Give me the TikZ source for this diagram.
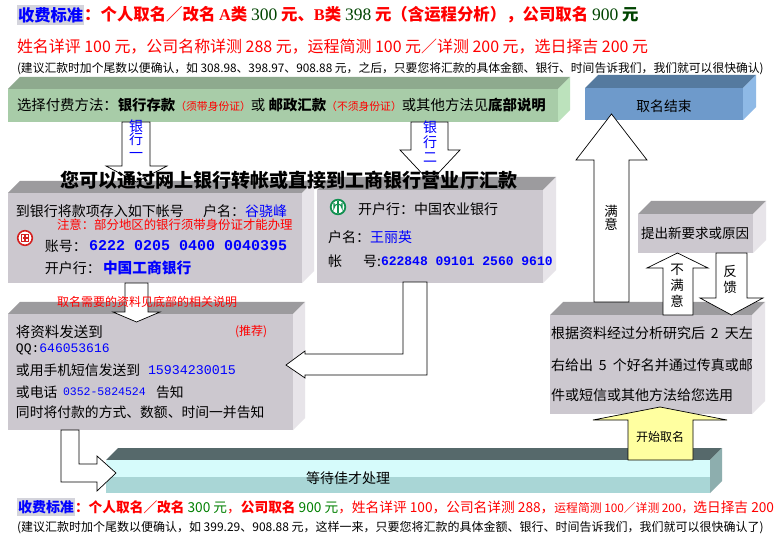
\documentclass[tikz,border=0pt]{standalone}
\usepackage{fontspec}
\setmainfont{Noto Sans CJK SC}
\newfontfamily\monof{Liberation Mono}
\newfontfamily\latserif{Liberation Serif}
\usetikzlibrary{calc}
\definecolor{gFront}{HTML}{A8CCA8}
\definecolor{gTop}{HTML}{8EAA8E}
\definecolor{gSide}{HTML}{BCE2BC}
\definecolor{bFront}{HTML}{6E9ACB}
\definecolor{bTop}{HTML}{557A9F}
\definecolor{bSide}{HTML}{8EB9E6}
\definecolor{kFront}{HTML}{CCC8CF}
\definecolor{kTop}{HTML}{9C9B9E}
\definecolor{kSide}{HTML}{E7E4E9}
\definecolor{cTop}{HTML}{56696B}
\definecolor{cFront}{HTML}{D6FBFB}
\definecolor{cLow}{HTML}{A9D6D6}
\definecolor{cSide}{HTML}{8DAEAE}
\definecolor{yel}{HTML}{FFFFA0}
\definecolor{hlgray}{HTML}{D4D4DC}
\definecolor{dgreen}{HTML}{004400}
\definecolor{dgreen2}{HTML}{008000}
\definecolor{icbc}{HTML}{D42020}
\definecolor{abc}{HTML}{109050}
\newcommand\fsz[1]{\fontsize{#1pt}{#1pt}\selectfont}
% 3D box: name, x1, y1, x2, y2, depth, front, top, side
\newcommand\tdbox[9]{%
  \fill[#8] (#2,#3) -- ({#2+#6},{#3-#6}) -- ({#4+#6},{#3-#6}) -- (#4,#3) -- cycle;
  \fill[#9] (#4,#3) -- ({#4+#6},{#3-#6}) -- ({#4+#6},{#5-#6}) -- (#4,#5) -- cycle;
  \node[fill=#7, inner sep=0pt, outer sep=0pt, anchor=north west,
        minimum width={(#4-#2)*1pt}, minimum height={(#5-#3)*1pt}] (#1) at (#2,#3) {};
}
% vertical block arrow: [style] shaft x1, x2, shaft end y, head base y, wing x1, wing x2, tip y
\newcommand\varrow[8][]{%
  \draw[barrow,#1] (#2,#4) -- (#3,#4) -- (#3,#5) -- (#7,#5) -- ({(#6+#7)/2},#8)
    -- (#6,#5) -- (#2,#5) -- cycle;
}
\tikzset{
  txt/.style={inner sep=0pt, outer sep=0pt, anchor=west},
  vlab/.style={inner sep=0pt, outer sep=0pt, align=center},
  barrow/.style={draw=black, fill=white, line width=0.7pt, line join=miter},
}
\begin{document}
\begin{tikzpicture}[x=1pt,y=-1pt]
\useasboundingbox[fill=white] (0,0) rectangle (780,548);

% ---------- boxes ----------
\tdbox{pay}{8}{89}{558}{122}{12}{gFront}{gTop}{gSide}
\tdbox{endbox}{585}{88}{743}{120}{13}{bFront}{bTop}{bSide}
\tdbox{icbcbox}{8}{193}{302}{283}{12}{kFront}{kTop}{kSide}
\tdbox{abcbox}{317}{190}{543}{283}{13}{kFront}{kTop}{kSide}
\tdbox{sendbox}{8}{314}{293}{430}{12}{kFront}{kTop}{kSide}
\tdbox{reqbox}{638}{214}{753}{253}{13}{kFront}{kTop}{kSide}
\tdbox{resbox}{550}{315}{752}{414}{13}{kFront}{kTop}{kSide}
\tdbox{waitbox}{106}{460}{710}{493}{12}{cFront}{cTop}{cSide}
\fill[cLow] (106,477) rectangle (710,493);

% ---------- logos ----------
\draw[icbc, line width=1.6pt, fill=white] (25,238) circle (7.3);
\draw[icbc, line width=1.1pt] (21.8,234.8) rectangle (28.2,241.2);
\draw[icbc, line width=1.1pt] (25,234.8) -- (25,241.2) (22.5,238) -- (27.5,238);
\draw[abc, line width=1.8pt, fill=white] (338,207) circle (7.3);
\draw[abc, line width=1.3pt] (338,201) -- (338,213);
\draw[abc, line width=1.1pt] (334,203) -- (334,208) arc[start angle=180, end angle=360, radius=4] -- (342,203);

% ---------- block arrows ----------
\varrow{122}{150}{122}{166}{106}{167}{182}
\varrow{411}{448}{122}{150}{400}{460}{182}
\varrow{125}{148}{283}{312}{113}{160}{322}
\draw[barrow] (403,282) -- (427,282) -- (427,375) -- (305,375) -- (305,378) -- (286,365)
  -- (305,351) -- (305,354) -- (403,354) -- cycle;
\draw[barrow] (61,430) -- (79,430) -- (79,464) -- (97,464) -- (97,456) -- (116,473)
  -- (97,491) -- (97,482) -- (61,482) -- cycle;
\varrow[fill=yel]{628}{693}{460}{420}{593}{727}{407}
\varrow{594}{629}{302}{160}{576}{647}{114}
\varrow{663}{693}{315}{268}{647}{708}{253}
\varrow{716}{747}{253}{298}{700}{763}{315}

% ---------- header text ----------
\node[txt, fill=hlgray, inner xsep=1pt, inner ysep=2pt] (fee1) at (17,15)
  {\fsz{16.3}\bfseries\color{blue}收费标准};
\node[txt] (line1) at (fee1.east)
  {\fsz{16.4}\bfseries\color{red}：个人取名／改名 {\latserif A}类 \textcolor{dgreen}{\latserif\mdseries\fsz{17.5}300} 元、{\latserif B}类 \textcolor{dgreen}{\latserif\mdseries\fsz{17.5}398} 元（含运程分析），公司取名 \textcolor{dgreen}{{\latserif\mdseries\fsz{17.5}900} 元}};
\node[txt] (line2) at (17,47)
  {\fsz{15.95}\color{red}姓名详评 100 元，公司名称详测 288 元，运程简测 100 元／详测 200 元，选日择吉 200 元};
\node[txt] (line3) at (17,69)
  {\fsz{11.8}(建议汇款时加个尾数以便确认，如 308.98、398.97、908.88 元，之后，只要您将汇款的具体金额、银行、时间告诉我们，我们就可以很快确认)};

% ---------- payment bar ----------
\node[txt] (paytext) at (17,105)
  {\fsz{14.4}选择付费方法：\textbf{银行存款}{\fsz{10.8}\color{red}（须带身份证）}或 \textbf{邮政汇款}{\fsz{10.8}\color{red}（不须身份证）}或其他方法见\textbf{底部说明}};
\node[vlab, text=blue, font=\fontsize{14pt}{13.5pt}\selectfont] (b1lab) at (136,139) {银\\行\\一};
\node[vlab, text=blue, font=\fontsize{14pt}{15pt}\selectfont] (b2lab) at (430,142) {银\\行\\二};
\node[txt] (title) at (60,180)
  {\fsz{19.05}\bfseries 您可以通过网上银行转帐或直接到工商银行营业厅汇款};

% ---------- ICBC box ----------
\node[txt] (icbc1) at (16,211) {\fsz{14}到银行将款项存入如下帐号};
\node[txt] (icbc2) at (203,211) {\fsz{14}户名：\textcolor{blue}{谷骁峰}};
\node[txt] (icbc3) at (57,225) {\fsz{12.4}\color{red}注意：部分地区的银行须带身份证才能办理};
\node[txt] (icbc4) at (45,246) {\fsz{14}账号：};
\node[txt] (icbc5) at (89,246) {\monof\bfseries\fsz{15}\color{blue}6222 0205 0400 0040395};
\node[txt] (icbc6) at (45,268) {\fsz{14}开户行：};
\node[txt] (icbc7) at (103,268) {\fsz{14.7}\bfseries\color{blue}中国工商银行};

% ---------- ABC box ----------
\node[txt] (abc1) at (358,209) {\fsz{14}开户行：中国农业银行};
\node[txt] (abc2) at (328,237) {\fsz{14}户名：\textcolor{blue}{王丽英}};
\node[txt] (abc3) at (328,261) {\fsz{14}帐\hspace{21pt}号:};
\node[txt] (abc4) at (381,261) {\monof\bfseries\fsz{13}\color{blue}622848 09101 2560 9610};

% ---------- send box ----------
\node[txt] (need) at (57,302) {\fsz{12}\color{red}取名需要的资料见底部的相关说明};
\node[txt] (send1) at (16,332) {\fsz{14.5}将资料发送到};
\node[txt] (send2) at (235,332) {\fsz{12}\color{red}(推荐)};
\node[txt] (send3) at (16,349) {\monof\fsz{13}QQ:\textcolor{blue}{646053616}};
\node[txt] (send4) at (16,370) {\fsz{13.8}或用手机短信发送到};
\node[txt] (send5) at (148,370) {\monof\fsz{13.3}\color{blue}15934230015};
\node[txt] (send6) at (16,392) {\fsz{13.8}或电话};
\node[txt] (send7) at (63,392) {\monof\fsz{11.5}\color{blue}0352-5824524};
\node[txt] (send8) at (156,392) {\fsz{13.8}告知};
\node[txt] (send9) at (16,412) {\fsz{13.8}同时将付款的方式、数额、时间一并告知};

% ---------- right column ----------
\node[inner sep=0pt] (endt) at (664,106) {\fsz{13.8}取名结束};
\node[vlab, font=\fontsize{13.5pt}{13pt}\selectfont] (okl) at (611,218) {满\\意};
\node[inner sep=0pt] (reqt) at (695,233) {\fsz{13.5}提出新要求或原因};
\node[vlab, font=\fontsize{13.5pt}{16pt}\selectfont] (nokl) at (677,286) {不\\满\\意};
\node[vlab, font=\fontsize{13.5pt}{16pt}\selectfont] (fbl) at (730,279) {反\\馈};
\node[txt] (res1) at (551,333) {\fsz{14}根据资料经过分析研究后\hspace{6pt}2\hspace{6pt}天左};
\node[txt] (res2) at (551,365) {\fsz{14}右给出\hspace{6pt}5\hspace{6pt}个好名并通过传真或邮};
\node[txt] (res3) at (551,395) {\fsz{14}件或短信或其他方法给您选用};
\node[inner sep=0pt] (startt) at (660,437) {\fsz{12}开始取名};
\node[inner sep=0pt] (waitt) at (348,478) {\fsz{14}等待佳才处理};

% ---------- footer ----------
\node[txt, fill=hlgray, inner xsep=1pt, inner ysep=2pt] (fee2) at (17,507)
  {\fsz{14}\bfseries\color{blue}收费标准};
\node[txt] (line5) at (fee2.east)
  {\fsz{13.7}\color{red}\textbf{：个人取名／改名}\textcolor{dgreen2}{\hspace{3pt}300 元}，\textbf{公司取名}\textcolor{dgreen2}{\hspace{3pt}900 元}，姓名详评 100，公司名详测 288，{\fsz{11.8}运程简测 100／详测 200，}选日择吉 200};
\node[txt] (line6) at (17,528)
  {\fsz{12}(建议汇款时加个尾数以便确认，如 399.29、908.88 元，这样一来，只要您将汇款的具体金额、银行、时间告诉我们，我们就可以很快确认了)};
\end{tikzpicture}
\end{document}
